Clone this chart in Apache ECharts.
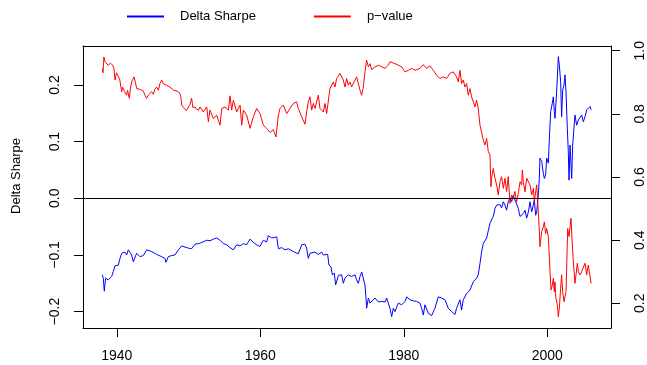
<!DOCTYPE html>
<html>
<head>
<meta charset="utf-8">
<script src="https://cdn.jsdelivr.net/npm/echarts@6/dist/echarts.min.js"></script>
<style>
html, body { margin: 0; padding: 0; background: #fff; }
#chart { width: 647px; height: 365px; }
</style>
</head>
<body>
<div id="chart"></div>
<script>
// Rolling Delta Sharpe estimate (left axis) and its p-value (right axis)
const dsYears = [
  1937.98, 1938.12, 1938.26, 1938.44, 1938.82, 1939.28, 1939.52, 1939.75, 1940.21, 1940.45,
  1940.68, 1941.14, 1941.37, 1941.61, 1942.07, 1942.30, 1942.77, 1943.23, 1943.70, 1944.16,
  1944.86, 1945.55, 1946.25, 1946.72, 1946.86, 1947.18, 1947.65, 1948.11, 1948.58, 1949.04,
  1949.50, 1949.97, 1950.43, 1950.90, 1951.36, 1951.83, 1952.06, 1952.53, 1952.99, 1953.46,
  1953.92, 1954.39, 1954.85, 1955.32, 1955.78, 1956.25, 1956.71, 1957.18, 1957.64, 1958.10,
  1958.57, 1959.03, 1959.50, 1959.96, 1960.43, 1960.66, 1960.89, 1961.12, 1961.59, 1962.29,
  1962.52, 1962.98, 1963.45, 1963.91, 1964.61, 1965.30, 1965.77, 1966.23, 1966.46, 1966.69,
  1966.93, 1967.16, 1967.62, 1968.09, 1968.55, 1968.79, 1969.02, 1969.39, 1969.57, 1969.85,
  1970.04, 1970.32, 1970.50, 1970.88, 1971.34, 1971.57, 1971.80, 1972.27, 1972.73, 1973.20,
  1973.43, 1973.66, 1973.90, 1974.13, 1974.36, 1974.59, 1974.73, 1974.82, 1975.06, 1975.29,
  1975.52, 1975.99, 1976.45, 1976.92, 1977.38, 1977.61, 1977.84, 1978.08, 1978.31, 1978.54,
  1978.77, 1979.24, 1979.70, 1980.17, 1980.40, 1980.86, 1981.32, 1981.79, 1982.25, 1982.49,
  1982.72, 1982.95, 1983.42, 1983.88, 1984.34, 1984.81, 1985.27, 1985.74, 1986.20, 1986.67,
  1986.90, 1987.13, 1987.36, 1987.83, 1988.06, 1988.29, 1988.76, 1988.99, 1989.22, 1989.69,
  1990.15, 1990.38, 1990.62, 1990.85, 1991.08, 1991.55, 1992.01, 1992.24, 1992.47, 1992.71,
  1992.94, 1993.17, 1993.40, 1993.64, 1993.87, 1994.10, 1994.33, 1994.56, 1994.80, 1995.03,
  1995.26, 1995.49, 1995.73, 1995.96, 1996.20, 1996.43, 1996.66, 1996.89, 1997.13, 1997.36,
  1997.59, 1997.82, 1998.06, 1998.19, 1998.38, 1998.52, 1998.75, 1998.89, 1998.98, 1999.22,
  1999.45, 1999.59, 1999.77, 1999.91, 2000.15, 2000.29, 2000.47, 2000.70, 2000.84, 2000.98,
  2001.07, 2001.21, 2001.40, 2001.54, 2001.68, 2001.86, 2002.00, 2002.14, 2002.33, 2002.47,
  2002.61, 2002.79, 2002.93, 2003.03, 2003.17, 2003.26, 2003.40, 2003.54, 2003.72, 2003.86,
  2004.09, 2004.33, 2004.56, 2004.79, 2005.02, 2005.26, 2005.49, 2005.72, 2005.96, 2006.10
];
const dsValues = [
  -0.135, -0.141, -0.164, -0.141, -0.144, -0.138, -0.129, -0.119, -0.118, -0.106,
  -0.097, -0.095, -0.100, -0.091, -0.100, -0.112, -0.097, -0.103, -0.101, -0.091,
  -0.094, -0.099, -0.103, -0.106, -0.113, -0.103, -0.101, -0.100, -0.091, -0.084,
  -0.086, -0.088, -0.089, -0.081, -0.080, -0.078, -0.080, -0.074, -0.075, -0.072,
  -0.070, -0.074, -0.080, -0.082, -0.087, -0.091, -0.082, -0.084, -0.080, -0.082,
  -0.072, -0.078, -0.082, -0.085, -0.074, -0.071, -0.077, -0.066, -0.070, -0.068,
  -0.089, -0.087, -0.091, -0.089, -0.094, -0.098, -0.082, -0.081, -0.088, -0.106,
  -0.097, -0.100, -0.095, -0.099, -0.095, -0.100, -0.097, -0.099, -0.118, -0.121,
  -0.135, -0.132, -0.153, -0.136, -0.135, -0.150, -0.141, -0.135, -0.138, -0.135,
  -0.144, -0.150, -0.138, -0.130, -0.132, -0.153, -0.176, -0.194, -0.176, -0.185,
  -0.182, -0.176, -0.183, -0.182, -0.183, -0.176, -0.185, -0.194, -0.209, -0.194,
  -0.200, -0.185, -0.188, -0.182, -0.174, -0.179, -0.181, -0.182, -0.185, -0.194,
  -0.206, -0.188, -0.203, -0.207, -0.194, -0.174, -0.176, -0.179, -0.194, -0.200,
  -0.197, -0.205, -0.194, -0.179, -0.197, -0.179, -0.168, -0.171, -0.162, -0.147,
  -0.141, -0.135, -0.115, -0.094, -0.080, -0.070, -0.044, -0.041, -0.032, -0.018,
  -0.012, -0.015, -0.011, -0.017, -0.006, -0.012, -0.021, -0.006, 0.001, -0.006,
  0.005, -0.003, -0.010, -0.018, -0.032, -0.035, -0.027, -0.021, -0.035, -0.024,
  -0.006, -0.024, -0.012, -0.003, -0.030, -0.024, 0.006, 0.035, 0.071, 0.065,
  0.044, 0.035, 0.041, 0.071, 0.062, 0.106, 0.153, 0.168, 0.179, 0.153,
  0.141, 0.168, 0.212, 0.250, 0.235, 0.206, 0.144, 0.191, 0.200, 0.218,
  0.188, 0.124, 0.082, 0.032, 0.094, 0.094, 0.035, 0.094, 0.124, 0.147,
  0.129, 0.138, 0.135, 0.147, 0.135, 0.144, 0.156, 0.159, 0.162, 0.156
];

const pYears = [
  1937.98, 1938.08, 1938.20, 1938.35, 1938.50, 1938.80, 1939.10, 1939.40, 1939.60, 1939.75,
  1939.95, 1940.12, 1940.40, 1940.68, 1940.80, 1940.91, 1941.10, 1941.37, 1941.50, 1941.75,
  1941.90, 1942.07, 1942.40, 1942.60, 1942.77, 1943.00, 1943.20, 1943.47, 1943.70, 1943.93,
  1944.16, 1944.40, 1944.60, 1944.86, 1945.10, 1945.30, 1945.55, 1945.80, 1946.00, 1946.25,
  1946.50, 1946.70, 1946.95, 1947.18, 1947.40, 1947.65, 1947.90, 1948.11, 1948.40, 1948.60,
  1948.80, 1948.95, 1949.04, 1949.30, 1949.50, 1949.70, 1949.97, 1950.20, 1950.43, 1950.60,
  1950.90, 1951.10, 1951.40, 1951.60, 1952.06, 1952.53, 1952.76, 1952.99, 1953.46, 1953.92,
  1954.39, 1954.62, 1955.08, 1955.55, 1955.78, 1956.01, 1956.25, 1956.71, 1957.18, 1957.41,
  1957.64, 1958.10, 1958.57, 1959.03, 1959.50, 1959.96, 1960.43, 1960.89, 1961.36, 1961.82,
  1962.19, 1962.52, 1962.75, 1963.21, 1963.68, 1964.14, 1964.61, 1965.07, 1965.30, 1965.77,
  1966.23, 1966.46, 1966.69, 1966.93, 1967.16, 1967.39, 1967.62, 1968.09, 1968.32, 1968.55,
  1968.79, 1969.02, 1969.25, 1969.48, 1969.71, 1969.95, 1970.18, 1970.41, 1970.64, 1970.88,
  1971.11, 1971.34, 1971.57, 1971.80, 1972.04, 1972.27, 1972.50, 1972.73, 1973.20, 1973.43,
  1973.66, 1973.90, 1974.13, 1974.36, 1974.59, 1974.82, 1975.06, 1975.29, 1975.52, 1975.75,
  1976.00, 1976.45, 1976.92, 1977.38, 1977.84, 1978.08, 1978.31, 1978.77, 1979.24, 1979.70,
  1980.17, 1980.63, 1981.10, 1981.56, 1981.79, 1982.25, 1982.72, 1983.18, 1983.65, 1984.11,
  1984.58, 1985.04, 1985.51, 1985.97, 1986.43, 1986.90, 1987.36, 1987.60, 1987.83, 1988.06,
  1988.29, 1988.53, 1988.76, 1988.99, 1989.22, 1989.45, 1989.69, 1989.92, 1990.15, 1990.38,
  1990.62, 1990.85, 1991.08, 1991.31, 1991.55, 1991.78, 1992.01, 1992.15, 1992.24, 1992.47,
  1992.71, 1992.94, 1993.17, 1993.40, 1993.64, 1993.87, 1994.10, 1994.33, 1994.56, 1994.80,
  1995.03, 1995.26, 1995.49, 1995.73, 1995.96, 1996.20, 1996.43, 1996.52, 1996.66, 1996.89,
  1997.13, 1997.36, 1997.59, 1997.82, 1998.06, 1998.19, 1998.38, 1998.52, 1998.66, 1998.85,
  1998.98, 1999.22, 1999.45, 1999.59, 1999.77, 1999.91, 2000.15, 2000.38, 2000.52, 2000.70,
  2000.84, 2000.98, 2001.07, 2001.21, 2001.40, 2001.54, 2001.68, 2001.86, 2002.00, 2002.14,
  2002.33, 2002.47, 2002.61, 2002.70, 2002.84, 2003.03, 2003.30, 2003.49, 2003.63, 2003.86,
  2004.00, 2004.19, 2004.33, 2004.56, 2004.79, 2005.02, 2005.26, 2005.49, 2005.72, 2005.86,
  2005.96, 2006.10
];
const pValues = [
  0.944, 0.930, 0.980, 0.965, 0.962, 0.954, 0.960, 0.955, 0.945, 0.907,
  0.930, 0.933, 0.910, 0.870, 0.885, 0.891, 0.870, 0.859, 0.875, 0.849,
  0.880, 0.901, 0.917, 0.900, 0.880, 0.885, 0.878, 0.880, 0.872, 0.859,
  0.849, 0.860, 0.865, 0.870, 0.862, 0.878, 0.885, 0.875, 0.895, 0.907,
  0.895, 0.900, 0.890, 0.891, 0.885, 0.888, 0.875, 0.880, 0.872, 0.870,
  0.865, 0.849, 0.828, 0.820, 0.822, 0.810, 0.806, 0.830, 0.850, 0.820,
  0.822, 0.815, 0.812, 0.822, 0.806, 0.822, 0.775, 0.812, 0.785, 0.796,
  0.764, 0.817, 0.822, 0.812, 0.857, 0.812, 0.843, 0.806, 0.828, 0.764,
  0.812, 0.796, 0.754, 0.791, 0.817, 0.801, 0.764, 0.754, 0.741, 0.750,
  0.727, 0.796, 0.817, 0.828, 0.801, 0.817, 0.833, 0.838, 0.817, 0.791,
  0.767, 0.806, 0.838, 0.854, 0.812, 0.833, 0.817, 0.859, 0.817, 0.822,
  0.806, 0.833, 0.801, 0.796, 0.880, 0.875, 0.901, 0.885, 0.912, 0.917,
  0.928, 0.933, 0.907, 0.885, 0.912, 0.891, 0.901, 0.885, 0.907, 0.917,
  0.912, 0.875, 0.859, 0.885, 0.933, 0.970, 0.949, 0.959, 0.940, 0.944,
  0.949, 0.954, 0.949, 0.944, 0.954, 0.965, 0.970, 0.959, 0.954, 0.949,
  0.933, 0.938, 0.944, 0.938, 0.933, 0.944, 0.956, 0.944, 0.952, 0.938,
  0.922, 0.912, 0.917, 0.912, 0.928, 0.933, 0.917, 0.901, 0.938, 0.896,
  0.907, 0.885, 0.896, 0.859, 0.880, 0.854, 0.849, 0.822, 0.843, 0.817,
  0.764, 0.759, 0.717, 0.701, 0.722, 0.680, 0.670, 0.569, 0.596, 0.627,
  0.596, 0.575, 0.543, 0.585, 0.601, 0.564, 0.596, 0.554, 0.601, 0.516,
  0.543, 0.533, 0.554, 0.522, 0.548, 0.585, 0.575, 0.622, 0.585, 0.553,
  0.596, 0.601, 0.575, 0.543, 0.564, 0.522, 0.553, 0.575, 0.522, 0.448,
  0.379, 0.427, 0.442, 0.458, 0.421, 0.437, 0.411, 0.300, 0.242, 0.258,
  0.279, 0.237, 0.268, 0.216, 0.195, 0.158, 0.184, 0.247, 0.290, 0.237,
  0.205, 0.205, 0.237, 0.311, 0.437, 0.411, 0.469, 0.385, 0.332, 0.263,
  0.290, 0.327, 0.300, 0.290, 0.300, 0.295, 0.327, 0.290, 0.321, 0.300,
  0.295, 0.263
];

const yearTicks = [1940, 1960, 1980, 2000];
const sharpeTicks = [-0.2, -0.1, 0, 0.1, 0.2];
const pTicks = [0.2, 0.4, 0.6, 0.8, 1.0];
const seriesNames = ['Delta Sharpe', 'p\u2212value'];
const leftAxisTitle = 'Delta Sharpe';

const FONT = '"Liberation Sans", Arial, Helvetica, sans-serif';
const fmt1 = v => (v < -1e-9 ? '\u2212' : '') + Math.abs(v).toFixed(1);
const zip = (xs, ys) => xs.map((x, i) => [x, ys[i]]);

// Black frame around the plot area is built from the four axis lines
const frameLine = { show: true, onZero: false, lineStyle: { color: '#000', width: 1 } };
const tickStyle = { show: true, inside: false, length: 9, lineStyle: { color: '#000', width: 1 } };
const labelStyle = { color: '#000', fontSize: 14, fontFamily: FONT };
const X_MIN = 1935.29, X_MAX = 2008.88;

const chart = echarts.init(document.getElementById('chart'), null, { renderer: 'canvas' });
chart.setOption({
  animation: false,
  textStyle: { fontFamily: FONT },
  grid: { left: 83, right: 36, top: 46, bottom: 37, show: false },
  legend: {
    top: 10, left: 127, padding: 0,
    icon: 'rect', itemWidth: 37, itemHeight: 2, itemGap: 58,
    textStyle: { color: '#000', fontSize: 13, fontFamily: FONT, padding: [0, 0, 0, 11] },
    data: seriesNames
  },
  // vertical title of the left axis
  graphic: [{
    type: 'text', x: 16, y: 176, rotation: Math.PI / 2, silent: true,
    style: { text: leftAxisTitle, fill: '#000', font: '13px ' + FONT, align: 'center', verticalAlign: 'middle' }
  }],
  xAxis: [
    {
      type: 'value', position: 'bottom', min: X_MIN, max: X_MAX,
      axisLine: frameLine, splitLine: { show: false },
      axisTick: Object.assign({ customValues: yearTicks }, tickStyle),
      axisLabel: Object.assign({ customValues: yearTicks, margin: 21, formatter: v => String(v) }, labelStyle)
    },
    {
      type: 'value', position: 'top', min: X_MIN, max: X_MAX,
      axisLine: frameLine, splitLine: { show: false },
      axisTick: { show: false }, axisLabel: { show: false }
    }
  ],
  yAxis: [
    {
      type: 'value', position: 'left', min: -0.2289, max: 0.2688,
      axisLine: frameLine, splitLine: { show: false },
      axisTick: Object.assign({ customValues: sharpeTicks }, tickStyle),
      axisLabel: Object.assign({ customValues: sharpeTicks, rotate: 90, margin: 21, formatter: fmt1 }, labelStyle)
    },
    {
      type: 'value', position: 'right', min: 0.1218, max: 1.0149,
      axisLine: frameLine, splitLine: { show: false },
      axisTick: Object.assign({ customValues: pTicks }, tickStyle),
      axisLabel: Object.assign({ customValues: pTicks, rotate: 90, margin: 22, formatter: fmt1 }, labelStyle)
    }
  ],
  series: [
    {
      name: seriesNames[0], type: 'line', xAxisIndex: 0, yAxisIndex: 0, z: 2,
      data: zip(dsYears, dsValues),
      showSymbol: false, symbol: 'none',
      lineStyle: { color: '#0000ff', width: 1 }, itemStyle: { color: '#0000ff' },
      emphasis: { disabled: true },
      markLine: {
        silent: true, symbol: ['none', 'none'], label: { show: false },
        lineStyle: { color: '#000', width: 1, type: 'solid' },
        emphasis: { disabled: true },
        data: [{ yAxis: 0 }]
      }
    },
    {
      name: seriesNames[1], type: 'line', xAxisIndex: 0, yAxisIndex: 1, z: 3,
      data: zip(pYears, pValues),
      showSymbol: false, symbol: 'none',
      lineStyle: { color: '#ff0000', width: 1 }, itemStyle: { color: '#ff0000' },
      emphasis: { disabled: true }
    }
  ]
});
</script>
</body>
</html>
